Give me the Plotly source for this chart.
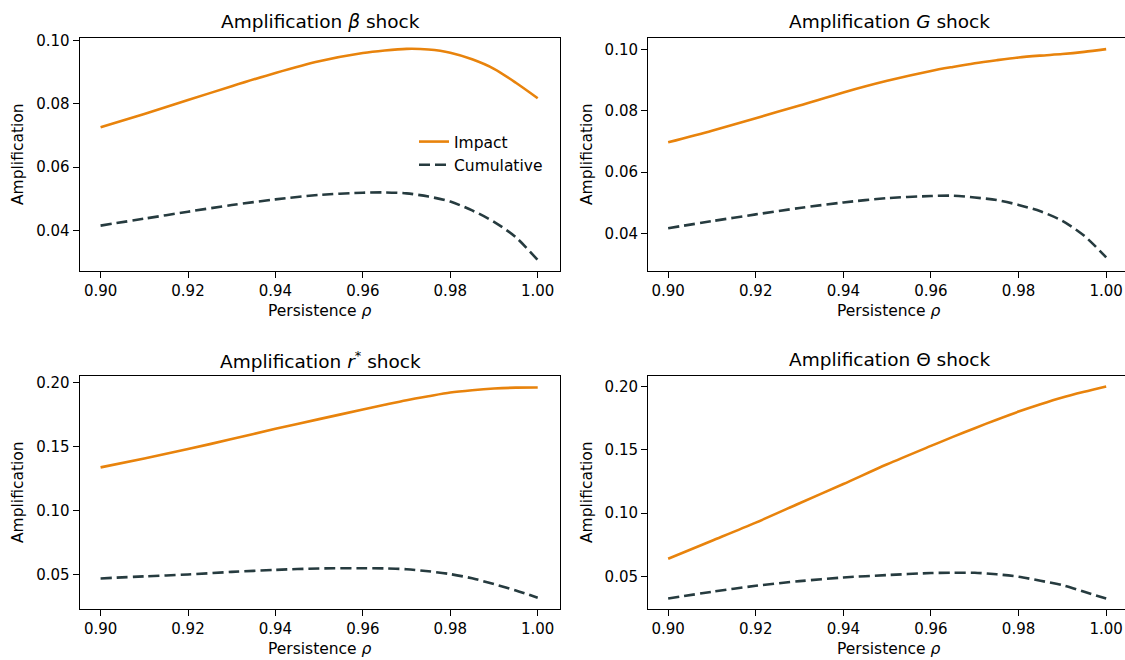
import plotly.graph_objects as go

rho = [0.90, 0.91, 0.92, 0.93, 0.94, 0.95, 0.96, 0.965, 0.97, 0.975, 0.98, 0.985, 0.99, 0.995, 1.00]

beta_impact = [0.0726, 0.0768, 0.0812, 0.0856, 0.0898, 0.0935, 0.0961, 0.0969, 0.0974, 0.0972, 0.0962, 0.0941, 0.0911, 0.0867, 0.0818]
beta_cum = [0.0415, 0.0437, 0.0459, 0.0480, 0.0498, 0.0512, 0.0519, 0.0520, 0.0517, 0.0507, 0.0491, 0.0463, 0.0427, 0.0378, 0.0306]

g_impact = [0.0697, 0.0735, 0.0776, 0.0817, 0.0860, 0.0898, 0.0930, 0.0943, 0.0955, 0.0965, 0.0974, 0.0980, 0.0985, 0.0992, 0.1001]
g_cum = [0.0417, 0.0440, 0.0462, 0.0483, 0.0501, 0.0515, 0.0522, 0.0523, 0.0517, 0.0509, 0.0493, 0.0472, 0.0441, 0.0392, 0.0322]

r_impact = [0.1337, 0.1407, 0.1480, 0.1558, 0.1639, 0.1714, 0.1789, 0.1826, 0.1862, 0.1893, 0.1922, 0.1940, 0.1953, 0.1960, 0.1961]
r_cum = [0.0469, 0.0485, 0.0500, 0.0520, 0.0536, 0.0547, 0.0549, 0.0547, 0.0541, 0.0525, 0.0503, 0.0470, 0.0425, 0.0375, 0.0318]

t_impact = [0.0640, 0.0782, 0.0925, 0.1078, 0.1230, 0.1386, 0.1531, 0.1602, 0.1671, 0.1738, 0.1802, 0.1860, 0.1913, 0.1958, 0.2000]
t_cum = [0.0326, 0.0379, 0.0426, 0.0463, 0.0492, 0.0511, 0.0527, 0.0529, 0.0529, 0.0517, 0.0498, 0.0466, 0.0432, 0.0379, 0.0326]

titles = ["Amplification <i>β</i> shock", "Amplification <i>G</i> shock",
          "Amplification <i>r</i><sup>*</sup> shock", "Amplification Θ shock"]
xlabel = "Persistence <i>ρ</i>"
ylabel = "Amplification"
series = [(beta_impact, beta_cum), (g_impact, g_cum), (r_impact, r_cum), (t_impact, t_cum)]
yticks = [[0.04, 0.06, 0.08, 0.10], [0.04, 0.06, 0.08, 0.10],
          [0.05, 0.10, 0.15, 0.20], [0.05, 0.10, 0.15, 0.20]]
yticktext = [["0.04", "0.06", "0.08", "0.10"], ["0.04", "0.06", "0.08", "0.10"],
             ["0.05", "0.10", "0.15", "0.20"], ["0.05", "0.10", "0.15", "0.20"]]
yranges = [[0.0273, 0.1010], [0.0279, 0.1039], [0.0234, 0.2055], [0.0247, 0.2087]]
xticks = [0.90, 0.92, 0.94, 0.96, 0.98, 1.00]
xticktext = ["0.90", "0.92", "0.94", "0.96", "0.98", "1.00"]

W, H = 1125, 660


def fx(sx):
    return sx / W


def fy(sy):
    return 1 - sy / H


xdoms = [[fx(79.6), fx(560)], [fx(648), 1.0], [fx(79.6), fx(560)], [fx(648), 1.0]]
xranges = [[0.8952, 1.0051], [0.8954, 1.0043], [0.8952, 1.0051], [0.8954, 1.0043]]
ytops = [37.5, 37.5, 375.5, 375.5]
ybots = [270.5, 270.5, 608.5, 608.5]
ydoms = [[fy(ybots[i]), fy(ytops[i])] for i in range(4)]
title_xc = [320, 889, 320, 889]

ORANGE = "#e8830c"
DARK = "#263b3f"
FONT = "DejaVu Sans"
TICK = 15
LAB = 15.5
TIT = 18.5

fig = go.Figure()
layout = dict(width=W, height=H, margin=dict(l=0, r=0, t=0, b=0, autoexpand=False),
              paper_bgcolor="white", plot_bgcolor="white",
              font=dict(family=FONT, size=TICK, color="black"),
              showlegend=True,
              legend=dict(x=fx(414), y=fy(125), xanchor="left", yanchor="top",
                          bgcolor="rgba(0,0,0,0)", font=dict(size=LAB, family=FONT),
                          traceorder="grouped", tracegroupgap=0, itemwidth=30))
annotations = []
for i in range(4):
    ax = "" if i == 0 else str(i + 1)
    imp, cum = series[i]
    fig.add_trace(go.Scatter(x=rho, y=imp, mode="lines", name="Impact", legendgroup="a",
                             line=dict(color=ORANGE, width=2.6, shape="spline", smoothing=0.8),
                             xaxis="x" + ax, yaxis="y" + ax, showlegend=(i == 0)))
    fig.add_trace(go.Scatter(x=rho, y=cum, mode="lines", name="Cumulative", legendgroup="b",
                             line=dict(color=DARK, width=2.6, dash="11px,5px", shape="spline",
                                       smoothing=0.8),
                             xaxis="x" + ax, yaxis="y" + ax, showlegend=(i == 0)))
    common = dict(ticks="outside", ticklen=6, tickwidth=1, tickcolor="black", showline=True,
                  mirror=True, linecolor="black", linewidth=1, showgrid=False, zeroline=False,
                  automargin=False, tickfont=dict(size=TICK, family=FONT, color="black"))
    layout["xaxis" + ax] = dict(domain=xdoms[i], range=xranges[i], anchor="y" + ax,
                                tickvals=xticks, ticktext=xticktext, **common)
    layout["yaxis" + ax] = dict(domain=ydoms[i], range=yranges[i], anchor="x" + ax,
                                tickvals=yticks[i], ticktext=yticktext[i], **common)
    annotations.append(dict(text=titles[i], x=fx(title_xc[i]), y=fy(ytops[i] - 16),
                            xref="paper", yref="paper", xanchor="center", yanchor="middle",
                            showarrow=False, font=dict(size=TIT, family=FONT)))
    annotations.append(dict(text=xlabel, x=fx(title_xc[i]), y=fy(ybots[i] + 40),
                            xref="paper", yref="paper", xanchor="center", yanchor="middle",
                            showarrow=False, font=dict(size=LAB, family=FONT)))
    ylab_x = 18 if i % 2 == 0 else 587
    annotations.append(dict(text=ylabel, x=fx(ylab_x), y=fy((ytops[i] + ybots[i]) / 2),
                            xref="paper", yref="paper", xanchor="center", yanchor="middle",
                            textangle=-90, showarrow=False, font=dict(size=LAB, family=FONT)))
layout["annotations"] = annotations
fig.update_layout(**layout)
fig.write_html("out.html", config={"displayModeBar": False},
               post_script="document.body.style.margin='0';document.body.style.overflow='hidden';")
